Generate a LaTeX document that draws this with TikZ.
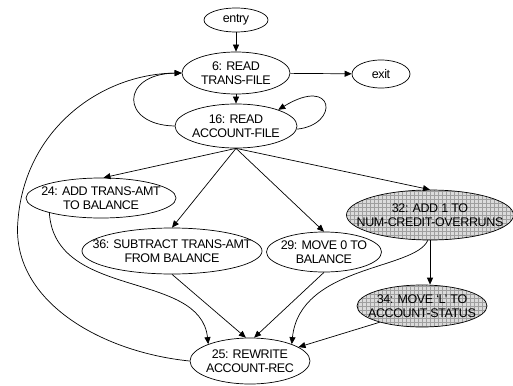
\documentclass[tikz,border=0pt]{standalone}
\usepackage{fontspec}
\setmainfont{Liberation Sans}[LetterSpace=-3]
\usetikzlibrary{arrows.meta,shapes.geometric}
\begin{document}
\begin{tikzpicture}[x=1pt,y=-1pt,
  txt/.style={font=\fontsize{12.5}{14}\selectfont,align=center,inner sep=0pt},
  st/.style={ellipse,draw,line width=0.7pt,inner sep=0pt},
  hatched/.style={st,fill=gray!28,path picture={\draw[gray!75,line width=0.35pt] (path picture bounding box.south west) grid[step=4pt] (path picture bounding box.north east);}},
  arr/.style={line width=0.7pt,-{Triangle[length=7pt,width=6pt]}}]
\useasboundingbox (0,0) rectangle (513,385);
\node[st,minimum width=64pt,minimum height=24pt,label={[txt]center:entry}] (entry) at (236,20) {};
\node[st,minimum width=108pt,minimum height=42pt,label={[txt]center:6: READ\\TRANS-FILE}] (n6) at (236,73) {};
\node[st,minimum width=58pt,minimum height=28pt,label={[txt]center:exit}] (exit) at (381,74) {};
\node[st,minimum width=122pt,minimum height=44pt,label={[txt]center:16: READ\\ACCOUNT-FILE}] (n16) at (236,126) {};
\node[st,minimum width=150pt,minimum height=40pt,label={[txt]center:24: ADD TRANS-AMT\\TO BALANCE}] (n24) at (101,198) {};
\node[st,minimum width=180pt,minimum height=46pt,label={[txt]center:36: SUBTRACT TRANS-AMT\\FROM BALANCE}] (n36) at (172,251) {};
\node[st,minimum width=115pt,minimum height=40pt,label={[txt]center:29: MOVE 0 TO\\BALANCE}] (n29) at (324,252) {};
\node[hatched,minimum width=167pt,minimum height=50pt,label={[txt]center:32: ADD 1 TO\\NUM-CREDIT-OVERRUNS}] (n32) at (430,215) {};
\node[hatched,minimum width=130pt,minimum height=42pt,label={[txt]center:34: MOVE `L' TO\\ACCOUNT-STATUS}] (n34) at (422,306) {};
\node[st,minimum width=120pt,minimum height=46pt,label={[txt]center:25: REWRITE\\ACCOUNT-REC}] (n25) at (250,361) {};
\coordinate (b16) at (n16.south);
\coordinate (l6) at (n6.west);
\draw[arr] (entry) -- (n6);
\draw[arr] (n6) -- (exit);
\draw[arr] (n6) -- (n16);
\draw[arr] (n16.-3) .. controls (340,125) and (335,75) .. (n16.21);
\draw[arr] (n16.west) .. controls (120,125) and (120,74) .. (l6);
\draw[arr] (n25.west) .. controls (100,352) and (10,300) .. (18,220) .. controls (25,130) and (100,74) .. (l6);
\draw[arr] (b16) -- (n24.83);
\draw[arr] (b16) -- (n36.north);
\draw[arr] (b16) -- (n29.north);
\draw[arr] (b16) -- (n32.north);
\draw[arr] (n32.south) -- (n32.south |- n34.north);
\draw[arr] (n24.196) .. controls (55,300) and (200,270) .. (n25.158);
\draw[arr] (n36.south) -- (n25.100);
\draw[arr] (n29.south) -- (n25.80);
\draw[arr] (n32.-95) .. controls (415,270) and (300,265) .. (n25.22);
\draw[arr] (n34.201) -- (n25.16);
\end{tikzpicture}
\end{document}
